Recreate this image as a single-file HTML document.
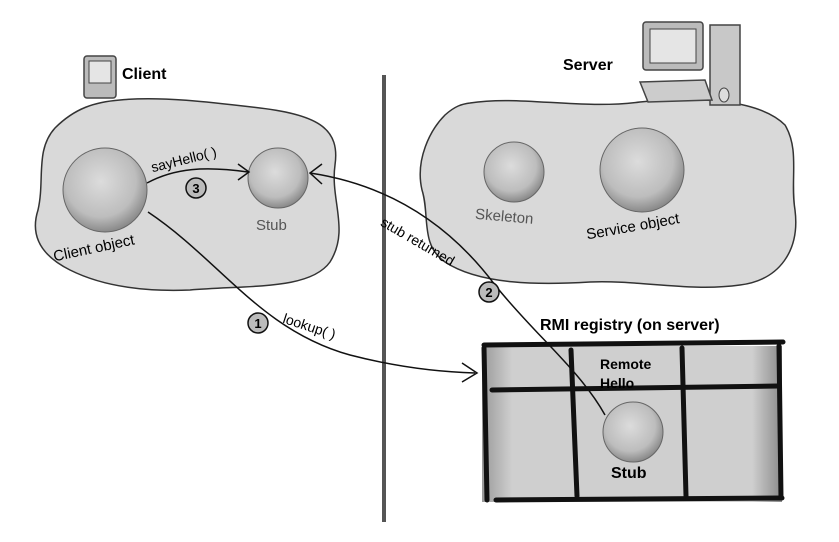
<!DOCTYPE html>
<html><head><meta charset="utf-8"><style>
html,body{margin:0;padding:0;background:#fff;}
svg{display:block;}
text{font-family:"Comic Sans MS","Liberation Sans",sans-serif;}
</style></head><body>
<svg width="839" height="542" viewBox="0 0 839 542" xmlns="http://www.w3.org/2000/svg">
<defs>
<radialGradient id="g" cx="45%" cy="40%" r="60%">
<stop offset="0" stop-color="#dcdcdc"/><stop offset="0.7" stop-color="#bdbdbd"/><stop offset="1" stop-color="#8a8a8a"/>
</radialGradient>
<linearGradient id="reg" x1="0" y1="0" x2="1" y2="0">
<stop offset="0" stop-color="#9a9a9a"/><stop offset="0.1" stop-color="#cfcfcf"/><stop offset="0.9" stop-color="#cfcfcf"/><stop offset="1" stop-color="#8a8a8a"/>
</linearGradient>
</defs>
<path d="M120,100 C160,96 210,102 260,108 C320,115 340,130 335,165 C330,200 350,230 330,262 C310,290 250,285 190,290 C140,292 100,285 70,270 C40,255 30,235 38,210 C45,180 35,150 55,128 C75,108 95,102 120,100 Z" fill="#d9d9d9" stroke="#333" stroke-width="1.5"/>
<path d="M470,103 C520,95 580,110 640,102 C700,96 760,100 785,125 C800,150 790,180 795,210 C800,250 780,280 740,285 C690,292 640,280 590,282 C540,285 480,285 445,262 C420,245 430,215 422,190 C415,160 430,130 445,115 C455,106 462,104 470,103 Z" fill="#d9d9d9" stroke="#333" stroke-width="1.5"/>
<line x1="384" y1="75" x2="384" y2="522" stroke="#555" stroke-width="4"/>
<rect x="84" y="56" width="32" height="42" rx="3" fill="#bbb" stroke="#444" stroke-width="1.5"/>
<rect x="89" y="61" width="22" height="22" fill="#e5e5e5" stroke="#444"/>
<text x="122" y="79" font-size="16" font-weight="bold">Client</text>
<rect x="643" y="22" width="60" height="48" rx="3" fill="#bbb" stroke="#444" stroke-width="1.5"/>
<rect x="650" y="29" width="46" height="34" fill="#e5e5e5" stroke="#444"/>
<rect x="710" y="25" width="30" height="80" fill="#c8c8c8" stroke="#444" stroke-width="1.5"/>
<path d="M640,82 L705,80 L712,100 L648,102 Z" fill="#ccc" stroke="#444" stroke-width="1.5"/>
<ellipse cx="724" cy="95" rx="5" ry="7" fill="#ddd" stroke="#444"/>
<text x="563" y="70" font-size="16" font-weight="bold">Server</text>
<circle cx="105" cy="190" r="42" fill="url(#g)" stroke="#666"/>
<circle cx="278" cy="178" r="30" fill="url(#g)" stroke="#666"/>
<circle cx="514" cy="172" r="30" fill="url(#g)" stroke="#666"/>
<circle cx="642" cy="170" r="42" fill="url(#g)" stroke="#666"/>
<text x="52" y="252" font-size="15" transform="rotate(-12 98 245)">Client object</text>
<text x="256" y="230" font-size="15" fill="#555">Stub</text>
<text x="475" y="222" font-size="15" fill="#555" transform="rotate(5 512 218)">Skeleton</text>
<text x="585" y="230" font-size="15" transform="rotate(-10 640 222)">Service object</text>
<rect x="482" y="346" width="300" height="156" fill="url(#reg)"/>
<g stroke="#111" stroke-width="5" fill="none" stroke-linecap="round">
<path d="M484,345 L783,342"/>
<path d="M492,390 L778,386"/>
<path d="M496,500 L782,498"/>
<path d="M484,348 L487,500"/>
<path d="M571,350 L577,496"/>
<path d="M682,348 L686,496"/>
<path d="M779,346 L781,498"/>
</g>
<text x="540" y="330" font-size="16" font-weight="bold">RMI registry (on server)</text>
<text x="600" y="369" font-size="14" font-weight="bold" font-family="Liberation Sans">Remote</text>
<text x="600" y="388" font-size="14" font-weight="bold" font-family="Liberation Sans">Hello</text>
<circle cx="633" cy="432" r="30" fill="url(#g)" stroke="#666"/>
<text x="611" y="478" font-size="16" font-weight="bold">Stub</text>
<g stroke="#111" stroke-width="1.5" fill="none">
<path d="M147,183 C175,168 205,166 248,172"/>
<path d="M238,164 L249,172 L238,180"/>
<path d="M148,212 C220,260 260,330 350,355 C400,368 440,372 475,373"/>
<path d="M462,363 L477,373 L462,382"/>
<path d="M310,173 C390,185 450,225 495,285 C535,335 580,370 605,415"/>
<path d="M322,164 L310,173 L322,184"/>
</g>
<text x="150" y="164" font-size="14" transform="rotate(-14 185 158)">sayHello( )</text>
<text x="366" y="232" font-size="14" transform="translate(-6 14) rotate(30 415 258)">stub returned</text>
<text x="278" y="332" font-size="14" transform="rotate(18 310 340)">lookup( )</text>
<g font-size="13" font-weight="bold" font-family="Liberation Sans" text-anchor="middle">
<circle cx="196" cy="188" r="10" fill="#bbb" stroke="#111" stroke-width="1.5"/><text x="196" y="193">3</text>
<circle cx="489" cy="292" r="10" fill="#bbb" stroke="#111" stroke-width="1.5"/><text x="489" y="297">2</text>
<circle cx="258" cy="323" r="10" fill="#bbb" stroke="#111" stroke-width="1.5"/><text x="258" y="328">1</text>
</g>
</svg>
</body></html>
